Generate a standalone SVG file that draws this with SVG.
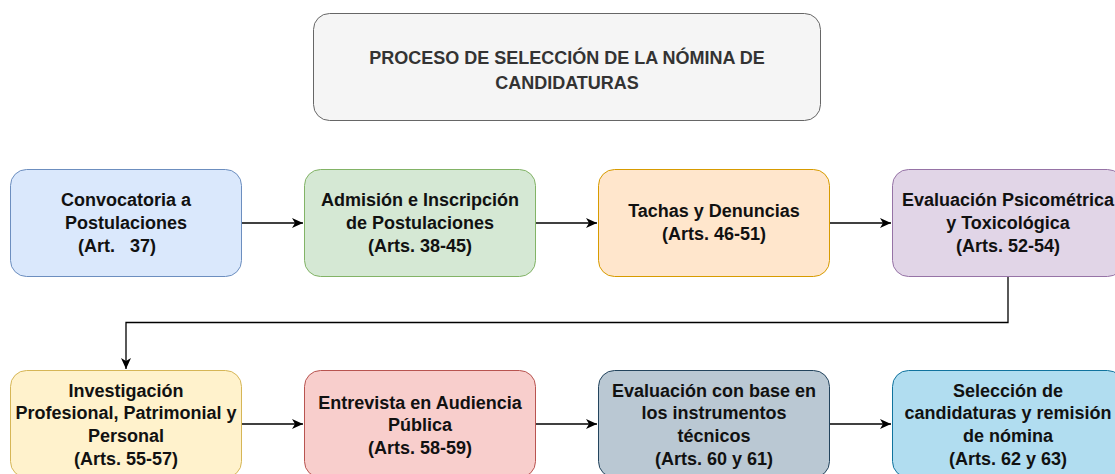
<svg xmlns="http://www.w3.org/2000/svg" width="1115" height="474" viewBox="0 0 1115 474">
<defs>
<style>
.t{font-family:"Liberation Sans",Arial,sans-serif;font-weight:bold;font-size:18px;fill:#111;text-anchor:middle}
.tt{font-family:"Liberation Sans",Arial,sans-serif;font-weight:bold;font-size:18px;fill:#333;text-anchor:middle}
.c{fill:none;stroke:#000;stroke-width:1.3}
</style>
<marker id="ah" markerWidth="12" markerHeight="10" refX="11" refY="5" orient="auto" markerUnits="userSpaceOnUse">
<path d="M0,0 L11,5 L0,10 L3,5 Z" fill="#000"/>
</marker>
</defs>
<rect width="1115" height="474" fill="#fff"/>
<g id="title">
<rect x="313.5" y="13.5" width="507" height="107" rx="16" fill="#f5f5f5" stroke="#666"/>
<text class="tt" x="567" y="64">PROCESO DE SELECCIÓN DE LA NÓMINA DE</text>
<text class="tt" x="567" y="89">CANDIDATURAS</text>
</g>
<g id="n1">
<rect x="10.5" y="169.5" width="231" height="107" rx="16" fill="#dae8fc" stroke="#6c8ebf"/>
<text class="t" x="126" y="206">Convocatoria a</text>
<text class="t" x="126" y="229">Postulaciones</text>
<text class="t" x="117" y="252" xml:space="preserve">(Art.   37)</text>
</g>
<g id="n2">
<rect x="304.5" y="169.5" width="231" height="107" rx="16" fill="#d5e8d4" stroke="#82b366"/>
<text class="t" x="420" y="206">Admisión e Inscripción</text>
<text class="t" x="420" y="229">de Postulaciones</text>
<text class="t" x="420" y="252">(Arts. 38-45)</text>
</g>
<g id="n3">
<rect x="598.5" y="169.5" width="231" height="107" rx="16" fill="#ffe6cc" stroke="#d79b00"/>
<text class="t" x="714" y="217">Tachas y Denuncias</text>
<text class="t" x="714" y="240">(Arts. 46-51)</text>
</g>
<g id="n4">
<rect x="892.5" y="169.5" width="231" height="107" rx="16" fill="#e1d5e7" stroke="#9673a6"/>
<text class="t" x="1008" y="206">Evaluación Psicométrica</text>
<text class="t" x="1008" y="229">y Toxicológica</text>
<text class="t" x="1008" y="252">(Arts. 52-54)</text>
</g>
<g id="n5">
<rect x="10.5" y="370.5" width="231" height="107" rx="16" fill="#fff2cc" stroke="#d6b656"/>
<text class="t" x="126" y="397">Investigación</text>
<text class="t" x="126" y="419">Profesional, Patrimonial y</text>
<text class="t" x="126" y="442">Personal</text>
<text class="t" x="126" y="465">(Arts. 55-57)</text>
</g>
<g id="n6">
<rect x="304.5" y="370.5" width="231" height="107" rx="16" fill="#f8cecc" stroke="#b85450"/>
<text class="t" x="420" y="409">Entrevista en Audiencia</text>
<text class="t" x="420" y="431">Pública</text>
<text class="t" x="420" y="454">(Arts. 58-59)</text>
</g>
<g id="n7">
<rect x="598.5" y="370.5" width="231" height="107" rx="16" fill="#bac8d3" stroke="#23445d"/>
<text class="t" x="714" y="397">Evaluación con base en</text>
<text class="t" x="714" y="419">los instrumentos</text>
<text class="t" x="714" y="442">técnicos</text>
<text class="t" x="714" y="465">(Arts. 60 y 61)</text>
</g>
<g id="n8">
<rect x="892.5" y="370.5" width="231" height="107" rx="16" fill="#b1ddf0" stroke="#10739e"/>
<text class="t" x="1008" y="397">Selección de</text>
<text class="t" x="1008" y="419">candidaturas y remisión</text>
<text class="t" x="1008" y="442">de nómina</text>
<text class="t" x="1008" y="465">(Arts. 62 y 63)</text>
</g>
<g id="connectors">
<path class="c" d="M242,223 L303,223" marker-end="url(#ah)"/>
<path class="c" d="M536,223 L597,223" marker-end="url(#ah)"/>
<path class="c" d="M830,223 L891,223" marker-end="url(#ah)"/>
<path class="c" d="M1008,277 L1008,322.5 L126,322.5 L126,369" marker-end="url(#ah)"/>
<path class="c" d="M242,424 L303,424" marker-end="url(#ah)"/>
<path class="c" d="M536,424 L597,424" marker-end="url(#ah)"/>
<path class="c" d="M830,424 L891,424" marker-end="url(#ah)"/>
</g>
</svg>
